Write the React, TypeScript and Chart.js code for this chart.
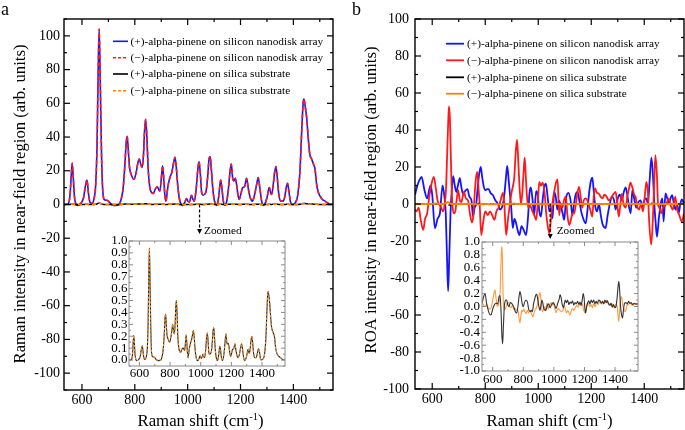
import React, { useEffect, useRef } from "react";
import { Chart, registerables } from "chart.js";
Chart.register(...registerables);

// ---------------- data ----------------
// Panel a: Raman spectra (shared Raman shift grid)
const ramanX = [
  532, 548, 555, 559, 563, 567, 572, 578, 584, 595,
  606, 612, 619, 625, 630, 637, 645, 652, 657, 661,
  665, 669, 674, 678, 684, 692, 700, 712, 725, 740,
  748, 756, 763, 767, 771, 775, 780, 786, 797, 805,
  812, 817, 822, 828, 833, 837, 841, 845, 851, 857,
  864, 870, 877, 885, 890, 895, 900, 905, 910, 914,
  918, 923, 928, 935, 940, 946, 952, 957, 962, 968,
  975, 980, 988, 996, 1001, 1006, 1015, 1020, 1025, 1032,
  1038, 1043, 1048, 1053, 1058, 1064, 1070, 1076, 1081, 1085,
  1090, 1096, 1103, 1110, 1116, 1121, 1125, 1130, 1135, 1141,
  1148, 1154, 1160, 1165, 1170, 1175, 1180, 1185, 1190, 1195,
  1201, 1208, 1215, 1223, 1230, 1237, 1245, 1252, 1260, 1267,
  1273, 1280, 1286, 1293, 1300, 1309, 1314, 1318, 1324, 1329,
  1334, 1339, 1345, 1353, 1362, 1368, 1373, 1378, 1383, 1390,
  1397, 1407, 1416, 1425, 1432, 1437, 1440, 1445, 1450, 1456,
  1462, 1469, 1476, 1482, 1488, 1495, 1501, 1510, 1520, 1535,
  1550,
];
// near-field Raman, silicon nanodisk array ((+) and (−) coincide)
const nanodiskRaman = [
  0, 0.5, 6, 16, 24.5, 16, 4, 0, -0.5, 0.5,
  4, 10, 14.5, 6, 1.5, 0.5, 3, 12, 35, 75,
  104, 75, 30, 10, 3, 2.5, 2, 0, -0.5, 0,
  3, 10, 25, 36, 40.5, 33, 22, 18, 15, 19,
  25, 27, 24, 22, 30, 44, 50.5, 42, 20, 10,
  7, 6.5, 9, 10.5, 9, 8, 15, 23, 14, 5,
  2, 8, 13, 17, 19, 24, 28, 22, 12, 4,
  0, -0.5, 1, 3.5, 2, 1.5, 5.5, 3, 2, 9,
  20, 25.5, 18, 7, 5.5, 6, 8, 17, 27, 28.5,
  20, 8, 1, -0.5, 3, 10, 14.5, 9, 2, -0.5,
  2, 9, 19, 24, 16, 14, 15.5, 12, 6, 3,
  6, 10, 10.5, 15.5, 9, 4, 2, 5, 11, 16,
  10, 2, -0.5, 0.5, 4, 10, 7, 6, 12, 19,
  22.5, 16, 6, 2, 2, 5, 10, 12.5, 8, 1,
  0, 1, 5, 20, 45, 60, 62.5, 58, 52, 40,
  30, 27, 24, 21, 12, 7, 5, 3, 2, 0.5,
  0,
];
// Raman on silica substrate ((+) and (−) coincide), shown in inset a
const silicaRaman = [
  0, 0.005, 0.05, 0.14, 0.205, 0.14, 0.04, 0.0, -0.005, 0.005,
  0.035, 0.085, 0.12, 0.055, 0.015, 0.005, 0.03, 0.11, 0.33, 0.69,
  0.94, 0.69, 0.28, 0.09, 0.03, 0.025, 0.02, 0.0, -0.005, 0.0,
  0.03, 0.1, 0.24, 0.35, 0.385, 0.31, 0.21, 0.18, 0.15, 0.19,
  0.25, 0.3, 0.25, 0.22, 0.3, 0.44, 0.5, 0.41, 0.19, 0.1,
  0.07, 0.065, 0.09, 0.1, 0.09, 0.08, 0.14, 0.21, 0.13, 0.05,
  0.02, 0.07, 0.11, 0.15, 0.17, 0.21, 0.25, 0.2, 0.11, 0.04,
  0.0, -0.005, 0.01, 0.035, 0.02, 0.015, 0.05, 0.03, 0.02, 0.08,
  0.18, 0.226, 0.16, 0.065, 0.05, 0.055, 0.075, 0.16, 0.25, 0.27,
  0.19, 0.075, 0.01, -0.005, 0.03, 0.085, 0.115, 0.08, 0.02, -0.005,
  0.02, 0.08, 0.17, 0.22, 0.15, 0.13, 0.14, 0.11, 0.055, 0.03,
  0.055, 0.09, 0.095, 0.137, 0.08, 0.035, 0.02, 0.045, 0.1, 0.137,
  0.09, 0.02, -0.005, 0.005, 0.035, 0.09, 0.065, 0.055, 0.11, 0.175,
  0.2, 0.145, 0.055, 0.02, 0.02, 0.045, 0.08, 0.095, 0.07, 0.01,
  0.0, 0.01, 0.045, 0.18, 0.41, 0.55, 0.575, 0.54, 0.48, 0.37,
  0.28, 0.24, 0.22, 0.19, 0.11, 0.065, 0.045, 0.03, 0.02, 0.005,
  0,
];

// Panel b: ROA spectra as [Raman shift, intensity]
const roaPlusNanodisk = [
  [535, 5], [544, 10], [552, 13], [560, 14.7], [570, 8], [581, 3], [589, 8], [594, 10], [600, 5], [610, -13],
  [620, -8], [629, -5], [639, 10], [646, 4], [651, -5], [656, -30], [660, -47], [664, -30], [669, -5], [674, 8],
  [679, 15], [685, 10], [691, 6.5], [697, 10], [704, 14], [710, 9], [716, 5.5], [724, 7], [733, 8], [740, 4],
  [748, 2], [754, -6.8], [760, -2], [766, 0], [771, 8], [777, 16], [783, 20], [789, 14], [795, 9], [800, 7.5],
  [807, 8], [813, 8], [820, 6], [829, 4.8], [838, 2], [848, 0], [856, -3], [865, -1], [872, 5], [878, 14],
  [883, 20.6], [889, 12], [894, 4], [898, -2], [904, -13], [910, -8], [916, -10], [922, -14], [929, -16.8], [937, -12],
  [945, -14], [954, -16.8], [962, -6], [967, 6], [972, 9], [978, 3], [985, -6], [992, 7], [998, 5], [1004, -4],
  [1010, -6.8], [1018, 4], [1024, 10], [1029, 11], [1036, 3], [1042, -4], [1048, -2], [1054, -7.7], [1060, 6.6], [1066, 4],
  [1072, -3], [1078, 2], [1085, -1], [1092, -5], [1098, -8.6], [1105, 3], [1114, 6], [1122, 2], [1129, -6], [1135, 0],
  [1141, 5], [1148, 6.6], [1155, 2], [1162, -4], [1170, -8], [1179, -10.5], [1186, -3], [1192, 6], [1198, 12], [1204, 14.2],
  [1210, 6], [1216, -2], [1222, -4], [1229, 0], [1236, -6], [1243, -11], [1254, -13], [1262, -6], [1270, 0], [1278, 4],
  [1286, 2], [1292, -3], [1300, 3], [1308, 5], [1315, 2], [1322, 6], [1330, 9], [1337, 4], [1343, -2], [1349, -5],
  [1355, 7.5], [1362, 3], [1370, -2], [1378, 1], [1386, 2], [1394, -2], [1400, 2], [1408, 3], [1414, 0], [1420, 12],
  [1427, 25], [1433, 15], [1438, 0], [1443, -10], [1448, -17.7], [1455, -8], [1462, 0], [1468, 3], [1473, -9.5], [1480, 5.7],
  [1487, 3], [1493, 0], [1499, 3], [1505, 4.8], [1512, 0], [1518, -3], [1524, 0], [1530, -5], [1536, 0], [1542, 2.5],
  [1550, 0],
];
const roaMinusNanodisk = [
  [535, -3], [541, -4], [549, -2], [556, -8], [566, -14], [573, -8], [581, -5], [588, 3], [596, 10], [606, 14.7],
  [614, 8], [620, 2], [626, 0], [634, -2], [640, -4], [646, -1], [652, 8], [657, 30], [662, 50], [664, 52.7],
  [667, 45], [672, 15], [676, 0], [681, -5], [687, -4], [692, 2], [698, 7.5], [704, 2], [710, 1], [715, 4],
  [720, 6.6], [727, 3], [735, 2], [742, -5], [750, -10], [756, -5], [760, 5], [765, 14], [770, 17.4], [775, 8],
  [779, 0], [785, -16.8], [792, -10], [800, -4], [810, -6], [818, -4], [826, -6], [835, -8.6], [842, -4], [850, -2],
  [858, 2], [867, 6], [872, 0], [879, -16.8], [886, -8], [893, 0], [899, 6], [904, 9.3], [910, 15], [915, 28],
  [920, 34.8], [925, 22], [930, 8], [935, 0], [940, 6], [945, 18], [949, 25], [953, 15], [958, 3], [963, -2],
  [970, -1], [978, -4], [985, -6], [992, -8.6], [998, 0], [1004, 12], [1010, 10], [1017, 11.5], [1024, 6], [1030, -5],
  [1036, -12], [1042, -15.9], [1048, -8], [1055, 2], [1062, 8], [1068, 12], [1073, 13.3], [1079, -6], [1085, 0], [1091, -2],
  [1097, 2], [1104, 4], [1110, -6], [1117, -11.4], [1124, -8], [1130, -5], [1136, -5], [1142, 0], [1148, 6], [1154, 9.3],
  [1160, 4], [1166, -2], [1172, 2], [1180, 3], [1190, 0], [1198, -4], [1204, -6.8], [1210, 5], [1215, 8.4], [1221, 6],
  [1228, 5.7], [1235, 4], [1242, 3], [1250, 5], [1258, 4], [1266, 2], [1274, 3], [1282, 5], [1292, 6.6], [1298, 0],
  [1304, -6.8], [1310, 0], [1315, 5.4], [1322, 0], [1330, -2], [1336, 4], [1342, 8], [1348, 11.5], [1355, 9], [1362, 5],
  [1367, 4], [1373, -1], [1380, -3], [1388, 0], [1395, -4], [1402, 4], [1408, 12], [1414, 6], [1418, -8], [1426, -22],
  [1432, -10], [1436, 5], [1442, 26.4], [1448, 15], [1452, 0], [1457, -2], [1464, -5], [1470, -2], [1478, -1], [1486, 1],
  [1492, 3], [1500, -1], [1508, -3], [1517, 4], [1524, -3], [1532, -6], [1542, -9.5], [1550, -5],
];
const roaPlusSilica = [
  [530, 0.05], [537, 0.12], [550, 0.2], [560, 0.05], [571, -0.06], [580, -0.12], [589, -0.13], [600, -0.04], [610, 0.02], [620, 0.05],
  [633, 0.04], [641, 0.15], [648, 0.17], [655, -0.1], [660, -0.45], [665, -0.58], [670, -0.3], [676, 0], [680, 0.07], [686, 0.1],
  [691, 0.1], [698, 0.03], [706, 0], [715, 0.06], [724, 0.05], [732, 0.02], [740, -0.02], [748, -0.08], [757, -0.1], [765, 0],
  [772, 0.15], [778, 0.23], [785, 0.17], [792, 0.05], [800, 0], [808, 0.06], [818, 0.1], [828, 0.06], [835, -0.04], [845, -0.08],
  [852, -0.06], [859, -0.08], [867, 0.04], [875, 0.12], [882, 0.18], [888, 0.19], [895, 0.1], [902, 0], [909, -0.06], [916, 0.03],
  [922, 0.1], [928, 0.05], [935, -0.04], [946, -0.06], [955, 0], [965, 0.04], [975, -0.02], [985, 0.03], [996, 0.06], [1005, 0.02],
  [1015, -0.03], [1025, 0.05], [1035, 0.12], [1040, 0.18], [1046, 0.15], [1054, 0.04], [1061, -0.02], [1068, 0.04], [1075, 0.1], [1082, 0.06],
  [1090, 0.1], [1098, 0.03], [1106, 0.07], [1114, 0.05], [1122, 0.09], [1130, 0.02], [1138, 0.06], [1146, 0.04], [1155, 0.08], [1163, 0.03],
  [1171, 0.07], [1178, 0.02], [1185, 0.1], [1192, 0.2], [1198, 0.12], [1203, -0.04], [1208, -0.1], [1214, 0], [1220, 0.05], [1228, 0.09],
  [1236, 0.04], [1244, 0.1], [1252, 0.06], [1260, 0.1], [1268, 0.04], [1276, 0.08], [1285, 0.05], [1293, 0.1], [1301, 0.09], [1310, 0.05],
  [1318, 0.08], [1326, 0.04], [1334, 0.1], [1342, 0.06], [1350, 0.09], [1358, 0.04], [1366, 0.02], [1374, 0.05], [1382, -0.01], [1390, 0.03],
  [1398, -0.02], [1406, 0], [1414, 0.15], [1420, 0.32], [1425, 0.39], [1430, 0.25], [1436, 0], [1442, -0.12], [1449, -0.18], [1455, -0.05],
  [1462, 0.05], [1470, 0.06], [1480, 0.04], [1488, 0.08], [1496, 0.05], [1505, 0.06], [1515, 0.03], [1525, 0.05], [1535, 0.04], [1550, 0.04],
];
const roaMinusSilica = [
  [530, 0.05], [540, 0.02], [550, 0], [560, 0.03], [570, -0.02], [582, -0.04], [592, 0], [600, 0.1], [608, 0.2], [615, 0.26],
  [621, 0.15], [627, 0.03], [633, 0], [640, 0.05], [648, 0.2], [653, 0.6], [658, 0.9], [661, 0.93], [665, 0.5], [670, 0.05],
  [674, -0.03], [680, -0.05], [688, 0], [695, 0.05], [702, 0.07], [710, 0], [718, -0.02], [728, 0.02], [738, -0.05], [748, -0.03],
  [758, -0.06], [767, -0.08], [773, -0.2], [778, -0.25], [784, -0.15], [790, -0.06], [796, -0.08], [803, -0.04], [810, -0.08], [818, -0.11],
  [826, -0.06], [834, -0.1], [843, -0.06], [852, -0.1], [858, -0.14], [863, -0.16], [870, -0.1], [878, -0.05], [886, -0.02], [894, 0.05],
  [902, 0.15], [909, 0.22], [916, 0.1], [924, -0.08], [932, -0.05], [940, 0], [947, -0.06], [955, 0.05], [963, -0.04], [972, 0.02],
  [982, 0.06], [990, 0.02], [1000, 0.05], [1007, -0.05], [1015, -0.1], [1022, -0.05], [1030, -0.03], [1040, -0.06], [1050, -0.08], [1060, -0.05],
  [1068, 0.02], [1075, -0.05], [1083, -0.1], [1090, -0.06], [1097, -0.09], [1105, -0.13], [1112, -0.08], [1120, -0.03], [1130, -0.06], [1140, -0.02],
  [1150, 0.02], [1160, -0.01], [1170, 0.05], [1178, 0.01], [1186, 0.04], [1195, -0.06], [1203, -0.1], [1210, -0.05], [1218, 0.02], [1226, 0.05],
  [1234, 0], [1243, 0.03], [1252, -0.02], [1260, 0.04], [1270, 0], [1280, 0.06], [1290, 0.03], [1300, 0.08], [1310, 0.04], [1320, 0.07],
  [1330, 0.05], [1338, 0.08], [1345, 0.1], [1352, 0.06], [1360, 0.03], [1368, 0.05], [1376, 0], [1385, 0.04], [1395, -0.02], [1405, 0.03],
  [1414, 0], [1420, -0.15], [1425, -0.23], [1430, -0.05], [1437, 0.12], [1443, 0.15], [1450, 0.02], [1458, -0.04], [1465, -0.08], [1471, -0.06],
  [1478, 0.02], [1486, 0.03], [1495, 0.05], [1505, 0.04], [1515, 0.02], [1530, 0.03], [1550, 0.03],
];

// ticks and labels
const shiftTicks = [600, 800, 1000, 1200, 1400];
const ramanYTicks = [-100, -80, -60, -40, -20, 0, 20, 40, 60, 80, 100];
const roaYTicks = [-100, -80, -60, -40, -20, 0, 20, 40, 60, 80, 100];
const insetRamanYTicks = [0, 0.1, 0.2, 0.3, 0.4, 0.5, 0.6, 0.7, 0.8, 0.9, 1.0];
const insetRoaYTicks = [-1, -0.8, -0.6, -0.4, -0.2, 0, 0.2, 0.4, 0.6, 0.8, 1.0];
const seriesLabels = [
  "(+)-alpha-pinene on silicon nanodisk array",
  "(\u2212)-alpha-pinene on silicon nanodisk array",
  "(+)-alpha-pinene on silica substrate",
  "(\u2212)-alpha-pinene on silica substrate",
];
const zoomMarkX = 1045;

// ---------------- styling helpers ----------------
const SERIF = '"Liberation Serif", "Times New Roman", Times, serif';
const BLUE = "#1414ff";
const RED = "#ff1a1a";
const ORANGE = "#ff8000";

const fromXY = (xs: number[], ys: number[]) => xs.map((x, i) => ({ x, y: ys[i] }));
const fromPairs = (p: number[][]) => p.map(([x, y]) => ({ x, y }));

function lineDs(label: string, data: any[], color: string, width: number, dash: number[], order: number) {
  return {
    label, data, order,
    borderColor: color, backgroundColor: color, borderWidth: width, borderDash: dash,
    pointRadius: 0, pointHoverRadius: 0, tension: 0.3, cubicInterpolationMode: "monotone", fill: false,
  };
}

function axis(min: number, max: number, ticks: number[], size: number, pad: number, fit: number, horiz: boolean, fmt: (v: number) => string) {
  return {
    type: "linear", min, max,
    afterBuildTicks: (s: any) => { s.ticks = ticks.map((v) => ({ value: v })); },
    afterFit: (s: any) => { if (horiz) s.height = fit; else s.width = fit; },
    grid: { display: false, drawTicks: false },
    border: { display: false },
    ticks: {
      autoSkip: false, maxRotation: 0, minRotation: 0, padding: pad, color: "#000",
      font: { family: SERIF, size }, callback: (v: any) => fmt(Number(v)),
    },
  };
}

function makeFrame(o: any) {
  return {
    id: "frameTicks",
    beforeDatasetsDraw(chart: any) {
      if (!o.bg) return;
      const a = chart.chartArea, ctx = chart.ctx;
      ctx.save(); ctx.fillStyle = o.bg; ctx.fillRect(a.left, a.top, a.right - a.left, a.bottom - a.top); ctx.restore();
    },
    afterDatasetsDraw(chart: any) {
      const { ctx, chartArea: a } = chart;
      const xs = chart.scales.x, ys = chart.scales.y;
      ctx.save();
      ctx.setLineDash([]);
      ctx.strokeStyle = o.color;
      ctx.lineWidth = o.tickWidth;
      const seg = (x1: number, y1: number, x2: number, y2: number) => { ctx.beginPath(); ctx.moveTo(x1, y1); ctx.lineTo(x2, y2); ctx.stroke(); };
      const each = (min: number, max: number, step: number, fn: (v: number, major: boolean) => void, majorStep: number) => {
        const n0 = Math.ceil(min / step - 1e-6), n1 = Math.floor(max / step + 1e-6);
        for (let n = n0; n <= n1; n++) {
          const v = n * step; const r = v / majorStep;
          fn(v, Math.abs(r - Math.round(r)) < 1e-6);
        }
      };
      each(xs.min, xs.max, o.xMinor, (v, major) => {
        const p = xs.getPixelForValue(v); const L = major ? o.major : o.minor;
        seg(p, a.bottom, p, a.bottom - L); seg(p, a.top, p, a.top + L);
      }, o.xMajor);
      each(ys.min, ys.max, o.yMinor, (v, major) => {
        const p = ys.getPixelForValue(v); const L = major ? o.major : o.minor;
        seg(a.left, p, a.left + L, p); seg(a.right, p, a.right - L, p);
      }, o.yMajor);
      ctx.lineWidth = o.width;
      ctx.strokeRect(a.left, a.top, a.right - a.left, a.bottom - a.top);
      ctx.restore();
    },
  };
}

function drawYTitle(ctx: any, text: string, cx: number, cy: number, size: number) {
  ctx.save();
  ctx.translate(cx, cy); ctx.rotate(-Math.PI / 2);
  ctx.font = `${size}px ${SERIF}`; ctx.fillStyle = "#000"; ctx.textAlign = "center"; ctx.textBaseline = "middle";
  ctx.fillText(text, 0, 0);
  ctx.restore();
}

function drawXTitle(ctx: any, cx: number, baseline: number, size: number) {
  const main = "Raman shift (cm", sup = "-1", tail = ")";
  ctx.save();
  ctx.fillStyle = "#000"; ctx.textBaseline = "alphabetic"; ctx.textAlign = "left";
  const big = `${size}px ${SERIF}`, small = `${size * 0.62}px ${SERIF}`;
  ctx.font = big; const w1 = ctx.measureText(main).width, w3 = ctx.measureText(tail).width;
  ctx.font = small; const w2 = ctx.measureText(sup).width;
  let x = cx - (w1 + w2 + w3) / 2;
  ctx.font = big; ctx.fillText(main, x, baseline); x += w1;
  ctx.font = small; ctx.fillText(sup, x, baseline - size * 0.38); x += w2;
  ctx.font = big; ctx.fillText(tail, x, baseline);
  ctx.restore();
}

function drawLegend(ctx: any, items: any[], x0: number, x1: number, tx: number, ys: number[], size: number) {
  ctx.save();
  ctx.font = `${size}px ${SERIF}`; ctx.textBaseline = "middle"; ctx.textAlign = "left";
  items.forEach((it, i) => {
    const y = ys[i];
    ctx.strokeStyle = it.color; ctx.lineWidth = it.width; ctx.setLineDash(it.dash);
    ctx.beginPath(); ctx.moveTo(x0, y); ctx.lineTo(x1, y); ctx.stroke();
    ctx.setLineDash([]);
    ctx.fillStyle = "#000"; ctx.fillText(it.label, tx, y + 0.5);
  });
  ctx.restore();
}

function drawZoomArrow(ctx: any, x: number, y0: number, y1: number, tx: number, ty: number) {
  ctx.save();
  ctx.strokeStyle = "#000"; ctx.fillStyle = "#000"; ctx.lineWidth = 1.2; ctx.setLineDash([3, 2]);
  ctx.beginPath(); ctx.moveTo(x, y0); ctx.lineTo(x, y1 - 4); ctx.stroke();
  ctx.setLineDash([]);
  ctx.beginPath(); ctx.moveTo(x - 2.5, y1 - 5); ctx.lineTo(x + 2.5, y1 - 5); ctx.lineTo(x, y1); ctx.closePath(); ctx.fill();
  ctx.font = `11.3px ${SERIF}`; ctx.textAlign = "left"; ctx.textBaseline = "middle";
  ctx.fillText("Zoomed", tx, ty);
  ctx.restore();
}

const baseOptions = (padding: any) => ({
  responsive: false, animation: false, devicePixelRatio: 1, events: [],
  layout: { padding },
  plugins: { legend: { display: false }, tooltip: { enabled: false } },
});

// ---------------- chart configs ----------------
function configA() {
  return {
    type: "line",
    data: {
      datasets: [
        lineDs(seriesLabels[3], fromXY(ramanX, silicaRaman), ORANGE, 1.5, [4, 3], 0),
        lineDs(seriesLabels[2], fromXY(ramanX, silicaRaman), "#000", 1.5, [], 1),
        lineDs(seriesLabels[1], fromXY(ramanX, nanodiskRaman), RED, 1.6, [4, 3], 2),
        lineDs(seriesLabels[0], fromXY(ramanX, nanodiskRaman), BLUE, 1.6, [], 3),
      ],
    },
    options: {
      ...baseOptions({ top: 19, right: 9, left: 0, bottom: 0 }),
      scales: {
        x: axis(532, 1550, shiftTicks, 14, 2, 40, true, (v) => String(v)),
        y: axis(-110, 110, ramanYTicks, 14, 4, 64, false, (v) => String(v)),
      },
    },
    plugins: [
      makeFrame({ color: "#000", width: 1.4, tickWidth: 1.2, xMajor: 200, xMinor: 100, yMajor: 20, yMinor: 10, major: 6, minor: 3 }),
      {
        id: "extrasA",
        afterDraw(chart: any) {
          const ctx = chart.ctx; const xs = chart.scales.x, ys = chart.scales.y;
          ctx.save();
          ctx.fillStyle = "#000"; ctx.font = `18px ${SERIF}`; ctx.textAlign = "left"; ctx.textBaseline = "alphabetic";
          ctx.fillText("a", 1, 15);
          ctx.restore();
          drawYTitle(ctx, "Raman intensity in near-field region (arb. units)", 21, 204, 16.7);
          drawXTitle(ctx, 200.5, 426, 16.8);
          drawLegend(ctx, [
            { label: seriesLabels[0], color: BLUE, width: 1.6, dash: [] },
            { label: seriesLabels[1], color: RED, width: 1.6, dash: [3, 2] },
            { label: seriesLabels[2], color: "#000", width: 1.6, dash: [] },
            { label: seriesLabels[3], color: ORANGE, width: 1.6, dash: [3, 2] },
          ], 113, 128, 130.5, [41.3, 57.7, 74, 90.7], 11.3);
          drawZoomArrow(ctx, xs.getPixelForValue(zoomMarkX), ys.getPixelForValue(0), 234, 204, 230.7);
        },
      },
    ],
  };
}

function configInsetA() {
  return {
    type: "line",
    data: {
      datasets: [
        lineDs(seriesLabels[3], fromXY(ramanX, silicaRaman), "#ff9020", 1.1, [2, 2], 0),
        lineDs(seriesLabels[2], fromXY(ramanX, silicaRaman), "#222", 1.1, [], 1),
      ],
    },
    options: {
      ...baseOptions({ top: 11, right: 5, left: 0, bottom: 0 }),
      scales: {
        x: axis(532, 1550, shiftTicks, 13, 0, 19, true, (v) => String(v)),
        y: axis(-0.05, 1.0, insetRamanYTicks, 13, 1.5, 29, false, (v) => v.toFixed(1)),
      },
    },
    plugins: [
      makeFrame({ color: "#8a8a8a", width: 1, tickWidth: 1, xMajor: 200, xMinor: 100, yMajor: 0.1, yMinor: 0.05, major: 4, minor: 2, bg: "#fff" }),
    ],
  };
}

function configB() {
  return {
    type: "line",
    data: {
      datasets: [
        lineDs(seriesLabels[3], fromPairs(roaMinusSilica), ORANGE, 2, [], 0),
        lineDs(seriesLabels[2], fromPairs(roaPlusSilica), "#000", 1.5, [4, 3], 1),
        lineDs(seriesLabels[1], fromPairs(roaMinusNanodisk), RED, 1.8, [], 2),
        lineDs(seriesLabels[0], fromPairs(roaPlusNanodisk), BLUE, 1.8, [], 3),
      ],
    },
    options: {
      ...baseOptions({ top: 19, right: 1, left: 0, bottom: 0 }),
      scales: {
        x: axis(535, 1550, shiftTicks, 14, 2, 41, true, (v) => String(v)),
        y: axis(-100, 100, roaYTicks, 14, 6, 73, false, (v) => String(v)),
      },
    },
    plugins: [
      makeFrame({ color: "#000", width: 1.4, tickWidth: 1.2, xMajor: 200, xMinor: 100, yMajor: 20, yMinor: 10, major: 6, minor: 3 }),
      {
        id: "extrasB",
        afterDraw(chart: any) {
          const ctx = chart.ctx; const xs = chart.scales.x, ys = chart.scales.y;
          ctx.save();
          ctx.fillStyle = "#000"; ctx.font = `18px ${SERIF}`; ctx.textAlign = "left"; ctx.textBaseline = "alphabetic";
          ctx.fillText("b", 10, 15);
          ctx.restore();
          drawYTitle(ctx, "ROA intensity in near-field region (arb. units)", 29.5, 200, 16.7);
          drawXTitle(ctx, 207.5, 426, 16.8);
          drawLegend(ctx, [
            { label: seriesLabels[0], color: BLUE, width: 1.8, dash: [] },
            { label: seriesLabels[1], color: RED, width: 1.8, dash: [] },
            { label: seriesLabels[2], color: "#000", width: 1.8, dash: [] },
            { label: seriesLabels[3], color: ORANGE, width: 1.8, dash: [] },
          ], 104, 122, 125, [43.7, 60.3, 77.3, 93.7], 11.3);
          drawZoomArrow(ctx, xs.getPixelForValue(zoomMarkX), ys.getPixelForValue(0), 239, 214.7, 231);
        },
      },
    ],
  };
}

function configInsetB() {
  return {
    type: "line",
    data: {
      datasets: [
        lineDs(seriesLabels[3], fromPairs(roaMinusSilica), "#ff9a40", 1.1, [], 1),
        lineDs(seriesLabels[2], fromPairs(roaPlusSilica), "#333", 1.1, [], 0),
      ],
    },
    options: {
      ...baseOptions({ top: 10, right: 7, left: 0, bottom: 0 }),
      scales: {
        x: axis(530, 1550, shiftTicks, 13, 1, 21, true, (v) => String(v)),
        y: axis(-1, 1, insetRoaYTicks, 13, 2, 32, false, (v) => v.toFixed(1)),
      },
    },
    plugins: [
      makeFrame({ color: "#8a8a8a", width: 1, tickWidth: 1, xMajor: 200, xMinor: 100, yMajor: 0.2, yMinor: 0.1, major: 4, minor: 2, bg: "#fff" }),
    ],
  };
}

// ---------------- components ----------------
function ChartBox({ left, top, width, height, make }: any) {
  const ref = useRef<HTMLCanvasElement>(null);
  useEffect(() => {
    const chart = new Chart(ref.current as any, make() as any);
    return () => chart.destroy();
  }, []);
  return (
    <canvas ref={ref} width={width} height={height}
      style={{ position: "absolute", left, top, width, height, display: "block" }} />
  );
}

export default function App() {
  return (
    <div style={{ position: "fixed", left: 0, top: 0, width: 685, height: 430, background: "#fff", overflow: "hidden" }}>
      <ChartBox left={0} top={0} width={342} height={430} make={configA} />
      <ChartBox left={342} top={0} width={343} height={430} make={configB} />
      <ChartBox left={100} top={230} width={190} height={155} make={configInsetA} />
      <ChartBox left={450} top={232} width={195} height={160} make={configInsetB} />
    </div>
  );
}
